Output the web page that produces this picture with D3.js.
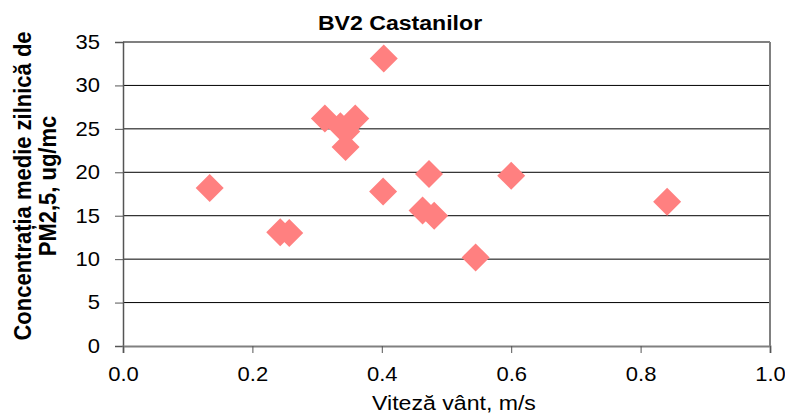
<!doctype html>
<html lang="ro">
<head>
<meta charset="UTF-8">
<title>BV2 Castanilor</title>
<script src="https://d3js.org/d3.v7.min.js"></script>
<style>
  html, body { margin: 0; padding: 0; background: #fff; }
  svg { display: block; font-family: "Liberation Sans", Arial, sans-serif; }
</style>
</head>
<body>
<svg id="chart" width="785" height="416"></svg>
<script>
// wind speed (m/s) and daily mean PM2.5 (ug/mc)
const windSpeed = [0.134, 0.243, 0.257, 0.312, 0.336, 0.345, 0.344, 0.359,
                   0.402, 0.403, 0.463, 0.473, 0.481, 0.545, 0.600, 0.841];
const pm25 = [18.2, 13.1, 13.0, 26.2, 25.3, 24.7, 22.9, 26.2,
              17.8, 33.1, 15.6, 19.8, 15.0, 10.2, 19.6, 16.6];
const xTicks = [0, 0.2, 0.4, 0.6, 0.8, 1.0];
const yTicks = [0, 5, 10, 15, 20, 25, 30, 35];

const title = "BV2 Castanilor";
const xTitle = "Viteză vânt, m/s";
const yTitle = ["Concentrația medie zilnică de", "PM2,5, ug/mc"];

const svg = d3.select("#chart");
const plotL = 123, plotR = 770, plotT = 42, plotB = 346;
const sx = 1.1; // the original text is a little wider than it is tall

const x = d3.scaleLinear().domain([0, 1]).range([plotL, plotR]);
const y = d3.scaleLinear().domain([0, 35]).range([plotB, plotT]);

// horizontal grid
svg.append("g")
  .selectAll("line")
  .data(yTicks.filter(d => d > 0 && d < 35))
  .join("line")
  .attr("x1", plotL).attr("x2", plotR)
  .attr("y1", d => y(d)).attr("y2", d => y(d))
  .attr("stroke", "#000").attr("stroke-width", 1);

// frame top / right
svg.append("line").attr("x1", plotL).attr("x2", plotR).attr("y1", plotT).attr("y2", plotT)
  .attr("stroke", "#808080").attr("stroke-width", 2);
svg.append("line").attr("x1", plotR).attr("x2", plotR).attr("y1", plotT).attr("y2", plotB)
  .attr("stroke", "#808080").attr("stroke-width", 2);

// axes
const yAxis = svg.append("g")
  .attr("transform", `translate(${plotL},0)`)
  .call(d3.axisLeft(y).tickValues(yTicks).tickSize(8).tickFormat(d3.format("d")));
const xAxis = svg.append("g")
  .attr("transform", `translate(0,${plotB})`)
  .call(d3.axisBottom(x).tickValues(xTicks).tickSize(7).tickFormat(d3.format(".1f")));

[yAxis, xAxis].forEach(g => {
  g.select(".domain").attr("stroke", "#555").attr("stroke-width", 1.5);
  g.selectAll(".tick line").attr("stroke", "#555");
  g.selectAll(".tick text")
    .attr("fill", "#000")
    .style("font-family", '"Liberation Sans", Arial, sans-serif')
    .style("font-size", "20px")
    .attr("transform", `scale(${sx},1)`);
});
yAxis.selectAll(".tick text").attr("x", -23 / sx);
xAxis.selectAll(".tick text").attr("y", 21);
xAxis.select(".domain").attr("stroke", "#808080").attr("stroke-width", 2);

// points
svg.append("g")
  .selectAll("path")
  .data(windSpeed.map((v, i) => [v, pm25[i]]))
  .join("path")
  .attr("d", d3.symbol(d3.symbolSquare, 392))
  .attr("transform", d => `translate(${x(d[0])},${y(d[1])}) rotate(45)`)
  .attr("fill", "#ff8080");

// titles
svg.append("text")
  .attr("transform", `translate(400,30) scale(${sx},1)`)
  .attr("text-anchor", "middle")
  .style("font-size", "21px").style("font-weight", "bold")
  .text(title);

svg.append("text")
  .attr("transform", `translate(454,410) scale(${sx},1)`)
  .attr("text-anchor", "middle")
  .style("font-size", "21px")
  .text(xTitle);

svg.append("text")
  .attr("transform", `translate(31,186) scale(${sx},1) rotate(-90)`)
  .attr("text-anchor", "middle")
  .style("font-size", "22px").style("font-weight", "bold")
  .selectAll("tspan")
  .data(yTitle)
  .join("tspan")
  .attr("x", 0)
  .attr("dy", (d, i) => i === 0 ? 0 : 22.5)
  .text(d => d);
</script>
</body>
</html>
